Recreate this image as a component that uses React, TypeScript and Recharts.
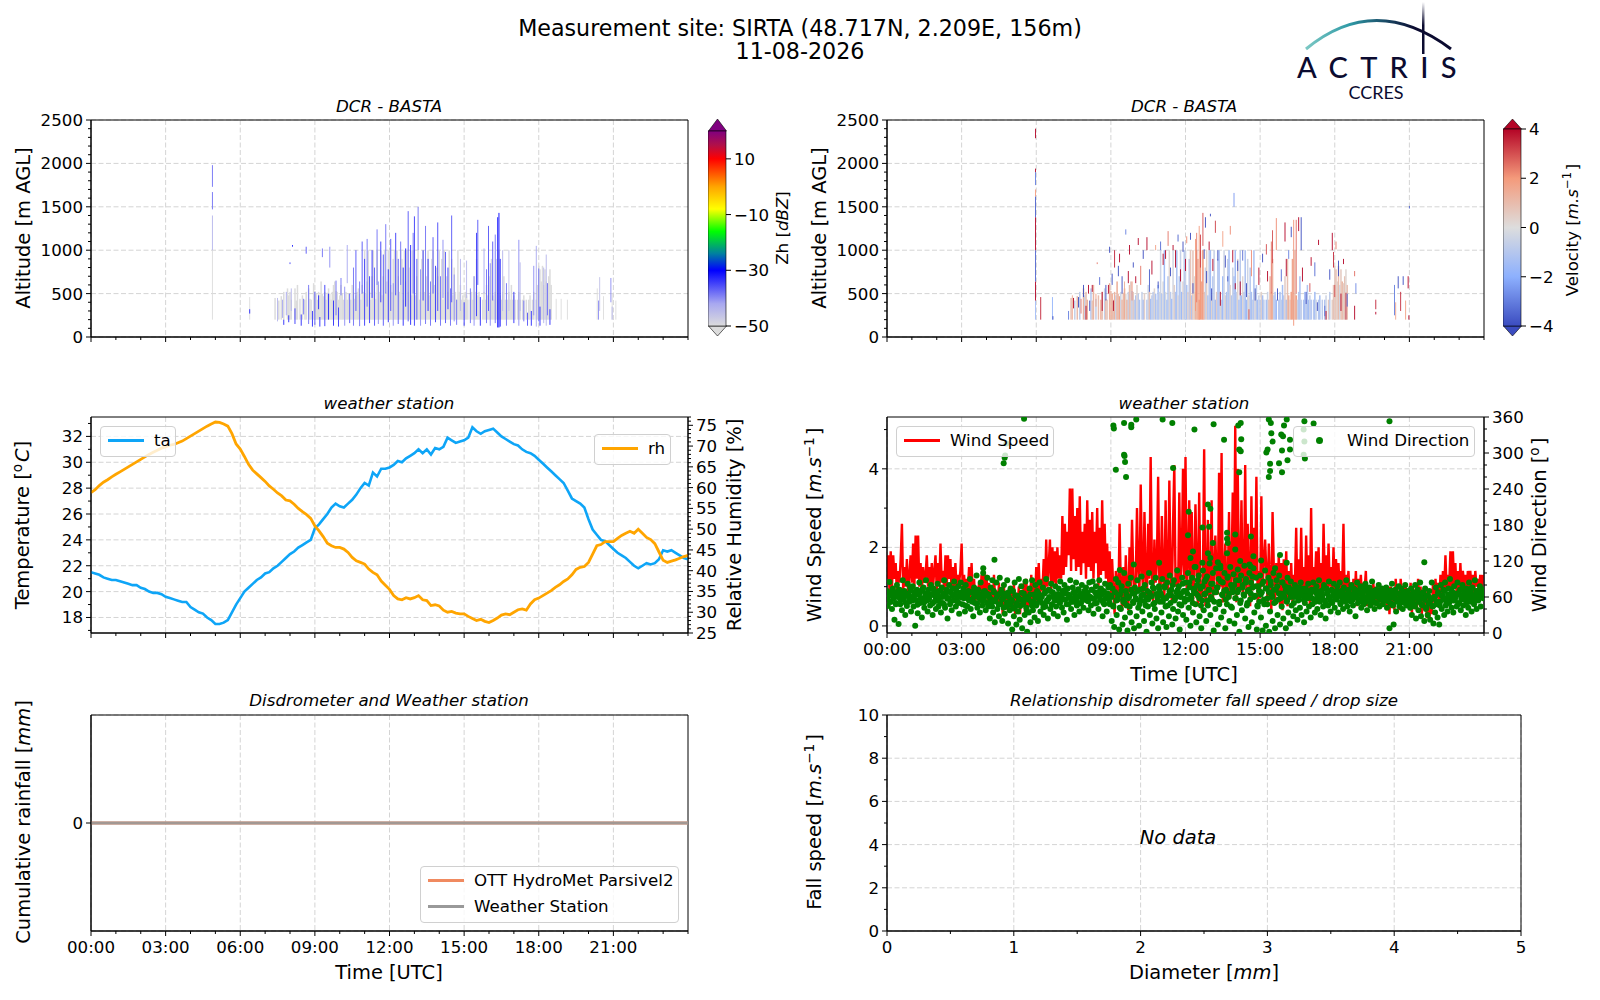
import { ComposedChart, Bar, Line, Scatter, XAxis, YAxis, CartesianGrid, ReferenceArea } from 'recharts';

const FONT = '"DejaVu Sans", sans-serif';

const hourTicks = [0, 1, 2, 3, 4, 5, 6, 7, 8, 9, 10, 11, 12, 13, 14, 15, 16, 17, 18, 19, 20, 21, 22, 23, 24];
const hourMajors = [0, 3, 6, 9, 12, 15, 18, 21];
const altTicks = [0, 100, 200, 300, 400, 500, 600, 700, 800, 900, 1000, 1100, 1200, 1300, 1400, 1500, 1600, 1700, 1800, 1900, 2000, 2100, 2200, 2300, 2400, 2500];
const altMajors = [0, 500, 1000, 1500, 2000, 2500];
const tempTicks = [17, 18, 19, 20, 21, 22, 23, 24, 25, 26, 27, 28, 29, 30, 31, 32, 33];
const tempMajors = [18, 20, 22, 24, 26, 28, 30, 32];
const rhTicks = [25, 26, 27, 28, 29, 30, 31, 32, 33, 34, 35, 36, 37, 38, 39, 40, 41, 42, 43, 44, 45, 46, 47, 48, 49, 50, 51, 52, 53, 54, 55, 56, 57, 58, 59, 60, 61, 62, 63, 64, 65, 66, 67, 68, 69, 70, 71, 72, 73, 74, 75, 76, 77];
const rhMajors = [25, 30, 35, 40, 45, 50, 55, 60, 65, 70, 75];
const wsTicks = [0, 1, 2, 3, 4, 5];
const wsMajors = [0, 2, 4];
const wdTicks = [0, 20, 40, 60, 80, 100, 120, 140, 160, 180, 200, 220, 240, 260, 280, 300, 320, 340, 360];
const wdMajors = [0, 60, 120, 180, 240, 300, 360];
const diamTicks = [0, 0.5, 1, 1.5, 2, 2.5, 3, 3.5, 4, 4.5, 5];
const diamMajors = [0, 1, 2, 3, 4, 5];
const fallTicks = [0, 1, 2, 3, 4, 5, 6, 7, 8, 9, 10];
const fallMajors = [0, 2, 4, 6, 8, 10];

// temperature and humidity, one value every 10 minutes
const temperature = [
  21.5, 21.4, 21.3, 21.1, 21.0, 20.9, 20.9, 20.8, 20.7, 20.6, 20.5, 20.5,
  20.3, 20.2, 20.0, 19.9, 19.9, 19.8, 19.6, 19.5, 19.4, 19.3, 19.2, 19.2,
  18.8, 18.6, 18.4, 18.3, 18.0, 17.8, 17.5, 17.5, 17.6, 17.8, 18.4, 19.0,
  19.5, 20.0, 20.3, 20.6, 20.9, 21.1, 21.4, 21.5, 21.8, 22.0, 22.3, 22.6,
  22.9, 23.1, 23.4, 23.6, 23.8, 24.0, 24.9, 25.2, 25.6, 26.0, 26.5, 26.8,
  26.6, 26.5, 26.8, 27.1, 27.5, 28.0, 28.4, 28.2, 29.2, 28.9, 29.5, 29.5,
  29.6, 29.8, 30.1, 30.0, 30.3, 30.5, 30.7, 31.0, 30.7, 31.0, 30.6, 31.1,
  31.0, 31.2, 31.9, 31.7, 31.5, 31.6, 31.7, 31.9, 32.7, 32.4, 32.2, 32.4,
  32.5, 32.6, 32.3, 32.0, 31.8, 31.6, 31.4, 31.3, 31.0, 30.8, 30.7, 30.5,
  30.2, 29.9, 29.6, 29.3, 29.0, 28.7, 28.4, 27.8, 27.2, 27.0, 26.8, 26.5,
  25.6, 24.8, 24.4, 24.0, 23.9, 23.6, 23.3, 23.0, 22.8, 22.6, 22.3, 22.0,
  21.8, 22.0, 22.2, 22.1, 22.2, 22.5, 23.2, 23.1, 23.2, 23.0, 22.8, 22.6, 22.5,
];
const humidity = [
  58.8, 59.5, 60.5, 61.3, 61.9, 62.6, 63.2, 63.8, 64.4, 65, 65.6, 66.2,
  66.8, 67.4, 68, 68.5, 69, 69.5, 69.8, 70.2, 70.4, 70.8, 71.2, 71.8,
  72.4, 73, 73.6, 74.2, 74.8, 75.3, 75.8, 75.7, 75.3, 74.8, 73, 70.5,
  69.3, 67.5, 65.6, 64.2, 63.3, 62.4, 61.5, 60.4, 59.6, 58.7, 58, 57,
  56.8, 56, 55, 54.2, 53.5, 52.6, 50.8, 49.6, 48.2, 46.6, 46, 45.6,
  45.6, 45.2, 44.4, 43.2, 42.4, 42, 41.6, 40.4, 39.6, 39, 37.5, 36.5,
  35.5, 34, 33.2, 33, 33.5, 33.2, 33.5, 34, 33, 32.8, 31.6, 31.8,
  31.5, 30.5, 30, 30.2, 29.8, 29.6, 29.6, 29, 28.5, 28, 28.3, 27.8,
  27.5, 28, 28.6, 29.3, 29.6, 29.4, 30, 30.6, 30.8, 30.5, 32, 33,
  33.4, 34, 34.6, 35.2, 36, 36.6, 37.4, 38, 39, 40.3, 40.8, 41,
  42, 44, 46, 46.3, 47, 47, 47, 47.8, 48.5, 49, 49.5, 49,
  50, 49, 48, 47.5, 46.5, 44.5, 42.5, 42, 42.3, 42.6, 43, 43.4, 43.7,
];

// wind speed, one value every 3 minutes, a row per hour
const windSpeed = [
  1.2, 1.8, 0.9, 1.9, 1.0, 1.8, 1.2, 1.6, 0.8, 1.4, 1.1, 1.7, 2.6, 0.9, 1.5, 1.0, 1.7, 0.8, 1.3, 1.8,
  1.1, 2.1, 1.0, 2.3, 1.2, 2.3, 1.0, 1.6, 0.9, 1.5, 1.1, 1.3, 1.8, 1.0, 1.5, 0.9, 1.6, 1.0, 1.4, 1.8,
  0.9, 1.6, 1.0, 2.1, 1.1, 1.4, 0.9, 1.8, 1.0, 1.8, 1.2, 1.7, 0.8, 1.5, 1.0, 1.6, 0.9, 1.3, 1.1, 1.4,
  2.1, 0.8, 1.3, 0.7, 1.2, 0.9, 1.5, 0.7, 1.6, 0.8, 1.2, 0.6, 1.0, 0.7, 1.1, 0.6, 1.3, 0.7, 1.4, 0.8,
  1.3, 0.6, 1.1, 0.7, 1.0, 0.5, 1.3, 0.6, 0.9, 0.4, 1.1, 0.5, 0.9, 0.3, 1.0, 0.5, 0.8, 0.4, 0.9, 0.4,
  0.9, 0.4, 1.1, 0.3, 0.8, 0.5, 1.0, 0.3, 0.9, 0.5, 1.1, 0.3, 1.2, 0.4, 0.9, 0.6, 1.3, 0.4, 1.1, 0.6,
  1.5, 0.6, 1.6, 0.7, 1.2, 0.9, 1.7, 0.8, 2.2, 1.0, 1.5, 2.2, 0.9, 2.0, 1.1, 1.9, 1.0, 2.0, 1.2, 1.8,
  1.2, 2.8, 1.3, 2.6, 1.5, 2.4, 1.8, 3.5, 1.4, 3.5, 1.7, 2.8, 1.4, 3.0, 1.5, 3.3, 1.3, 2.4, 1.6, 2.6,
  1.2, 3.2, 1.5, 2.7, 1.4, 2.9, 1.2, 2.4, 1.6, 3.0, 1.0, 2.5, 1.3, 3.2, 1.4, 2.6, 1.2, 2.1, 1.0, 1.9,
  0.8, 1.7, 0.9, 0.3, 1.4, 1.1, 0.6, 2.6, 1.0, 0.4, 1.5, 0.5, 1.8, 0.9, 0.4, 2.0, 1.0, 2.7, 1.3, 0.6,
  1.2, 3.0, 1.4, 0.9, 3.6, 1.5, 0.8, 2.9, 1.3, 0.7, 2.6, 1.2, 4.3, 1.4, 0.6, 2.2, 1.1, 1.6, 3.8, 1.0,
  0.9, 2.8, 1.3, 0.7, 3.2, 1.2, 0.9, 3.7, 1.4, 0.6, 2.6, 4.1, 1.0, 1.5, 0.7, 3.4, 1.1, 1.6, 4.0, 1.2,
  4.3, 0.9, 1.6, 3.2, 1.0, 2.9, 0.6, 1.3, 3.1, 1.5, 0.5, 3.4, 0.8, 0.4, 1.2, 4.5, 0.5, 1.0, 2.7, 0.6,
  0.9, 3.2, 0.6, 1.4, 2.3, 1.2, 0.8, 3.9, 1.0, 4.4, 0.6, 1.2, 2.1, 0.5, 1.1, 2.9, 0.7, 1.3, 3.4, 0.9,
  5.1, 0.6, 4.0, 0.9, 1.2, 3.2, 0.8, 1.1, 4.1, 0.8, 2.6, 1.3, 0.5, 3.3, 0.9, 2.5, 1.2, 3.8, 0.6, 1.4,
  0.7, 3.3, 1.0, 1.6, 2.2, 1.4, 0.6, 2.1, 1.1, 0.4, 2.9, 1.5, 0.6, 1.6, 0.8, 1.8, 0.5, 1.6, 0.4, 1.7,
  1.0, 1.9, 0.5, 1.4, 0.8, 1.6, 0.6, 1.3, 1.1, 2.5, 0.6, 1.7, 0.8, 2.5, 0.9, 1.5, 0.6, 2.3, 0.8, 1.8,
  0.5, 3.0, 0.8, 1.5, 1.0, 1.9, 0.6, 2.0, 0.9, 1.6, 0.7, 2.6, 1.1, 1.8, 0.8, 2.1, 1.0, 1.5, 0.8, 2.0,
  0.9, 1.7, 1.1, 1.6, 0.8, 1.4, 1.0, 2.6, 0.7, 1.3, 0.9, 1.4, 0.8, 1.1, 0.6, 1.2, 0.7, 1.4, 0.5, 1.2,
  0.8, 1.3, 0.6, 1.1, 0.9, 1.4, 0.5, 1.0, 0.7, 0.9, 0.5, 1.1, 0.6, 1.0, 0.5, 0.9, 0.6, 1.0, 0.5, 0.9,
  0.7, 0.9, 0.4, 1.0, 0.3, 1.0, 0.5, 0.8, 0.4, 1.2, 0.7, 0.9, 0.4, 1.2, 0.8, 1.0, 0.6, 1.0, 0.5, 0.9,
  0.4, 1.1, 0.3, 1.0, 0.5, 0.9, 0.4, 1.2, 0.6, 1.0, 0.3, 0.8, 0.5, 0.9, 0.2, 0.8, 0.1, 0.7, 0.3, 1.1,
  0.6, 1.2, 0.7, 1.1, 0.5, 1.3, 0.7, 1.4, 0.9, 1.8, 0.9, 1.3, 1.0, 1.9, 0.8, 1.9, 1.0, 1.6, 0.8, 1.4,
  0.8, 1.6, 0.9, 1.4, 1.1, 1.3, 0.8, 1.4, 1.0, 1.4, 0.9, 1.3, 0.8, 1.4, 1.0, 1.2, 0.9, 1.3, 0.8, 1.3,
];

// wind direction, one value every 2 minutes, a row per hour
const windDir = [
  70, 45, 62, 85, 52, 66, 40, 74, 58, 22, 68, 50, 80, 60, 15, 72, 48, 64, 38, 88, 56, 70, 30, 62, 45, 82, 66, 52, 76, 36,
  60, 78, 44, 68, 12, 55, 72, 33, 64, 84, 50, 70, 26, 58, 76, 42, 66, 88, 54, 36, 72, 60, 46, 80, 64, 30, 74, 52, 68, 40,
  56, 82, 44, 70, 60, 34, 76, 50, 66, 88, 42, 62, 72, 24, 58, 80, 48, 68, 38, 74, 54, 86, 64, 44, 70, 52, 78, 32, 60, 84,
  66, 48, 74, 58, 36, 80, 62, 44, 70, 54, 90, 40, 68, 56, 28, 76, 50, 64, 96, 42, 72, 58, 34, 84, 62, 46, 100, 54, 70, 38,
  66, 92, 44, 60, 24, 76, 50, 88, 34, 68, 18, 56, 84, 40, 64, 28, 92, 48, 72, 20, 58, 80, 32, 66, 44, 88, 16, 60, 38, 74,
  52, 6, 70, 28, 84, 44, 14, 62, 36, 90, 22, 56, 78, 8, 48, 66, 30, 86, 42, 2, 60, 34, 74, 18, 52, 88, 38, 64, 26, 80,
  46, 70, 20, 58, 84, 36, 62, 50, 76, 30, 66, 44, 90, 54, 24, 72, 60, 40, 82, 48, 68, 32, 56, 78, 44, 64, 28, 74, 52, 86,
  60, 42, 70, 34, 80, 56, 66, 22, 74, 48, 62, 88, 40, 58, 76, 52, 30, 68, 84, 46, 60, 72, 36, 64, 50, 80, 56, 42, 70, 62,
  76, 54, 66, 38, 84, 60, 46, 72, 86, 32, 58, 68, 78, 50, 62, 40, 88, 56, 74, 64, 28, 70, 48, 82, 58, 36, 66, 76, 52, 80,
  62, 20, 74, 44, 10, 68, 90, 30, 56, 84, 6, 64, 40, 78, 14, 52, 100, 26, 70, 46, 4, 82, 60, 34, 92, 18, 66, 50, 8, 76,
  58, 28, 88, 42, 12, 72, 54, 94, 36, 64, 20, 80, 46, 2, 70, 56, 100, 30, 62, 84, 16, 48, 74, 40, 92, 24, 60, 8, 78, 52,
  66, 34, 90, 18, 58, 76, 44, 10, 84, 62, 28, 96, 50, 72, 14, 40, 88, 56, 24, 68, 104, 36, 78, 6, 60, 46, 92, 30, 70, 52,
  84, 22, 66, 100, 42, 76, 12, 58, 92, 34, 70, 110, 48, 18, 80, 62, 96, 28, 74, 8, 54, 104, 38, 86, 66, 20, 94, 46, 72, 116,
  30, 82, 56, 100, 4, 68, 40, 108, 76, 14, 90, 52, 112, 26, 64, 84, 36, 100, 8, 72, 48, 94, 60, 20, 110, 80, 42, 68, 98, 16,
  58, 88, 30, 106, 72, 2, 50, 96, 38, 80, 64, 112, 24, 90, 46, 70, 10, 100, 56, 84, 18, 76, 108, 34, 62, 92, 6, 44, 78, 52,
  96, 26, 68, 4, 86, 48, 104, 12, 74, 58, 92, 2, 36, 80, 64, 20, 100, 50, 8, 72, 88, 30, 56, 96, 14, 66, 44, 84, 24, 60,
  78, 8, 52, 92, 34, 68, 16, 86, 46, 72, 28, 60, 80, 38, 66, 22, 54, 76, 42, 84, 30, 62, 70, 18, 50, 74, 36, 58, 82, 44,
  64, 26, 72, 48, 84, 56, 34, 68, 78, 40, 60, 88, 52, 30, 70, 62, 44, 80, 54, 24, 74, 66, 46, 86, 58, 36, 72, 50, 64, 82,
  42, 68, 56, 78, 34, 62, 84, 48, 70, 58, 40, 76, 64, 52, 88, 44, 66, 72, 36, 60, 80, 54, 46, 74, 68, 28, 62, 84, 50, 70,
  56, 78, 42, 66, 60, 48, 74, 82, 52, 38, 68, 62, 76, 46, 58, 86, 54, 70, 40, 64, 72, 50, 60, 80, 44, 66, 56, 74, 48, 62,
  68, 54, 76, 42, 60, 70, 8, 50, 64, 82, 46, 14, 58, 72, 36, 66, 52, 78, 44, 62, 74, 56, 40, 68, 50, 80, 60, 46, 70, 54,
  64, 42, 74, 30, 56, 68, 48, 80, 24, 60, 72, 38, 52, 84, 28, 66, 46, 58, 20, 74, 40, 62, 30, 50, 70, 22, 56, 84, 44, 16,
  60, 34, 76, 48, 26, 66, 14, 52, 80, 40, 62, 72, 30, 84, 46, 58, 36, 74, 50, 90, 64, 42, 68, 34, 78, 54, 60, 44, 84, 66,
  50, 72, 38, 60, 80, 46, 66, 56, 30, 74, 62, 42, 84, 52, 68, 36, 76, 58, 48, 88, 64, 40, 70, 54, 60, 78, 44, 66, 72, 58,
];

// more direction samples in the dense core of the band, every 4 minutes, a row per hour
const windDirCore = [
  58, 66, 52, 70, 61, 48, 64, 72, 55, 60, 68, 50, 63, 57, 71,
  54, 62, 69, 47, 65, 58, 73, 51, 60, 67, 56, 63, 49, 70, 59,
  64, 53, 71, 60, 48, 66, 57, 69, 52, 62, 74, 55, 61, 50, 67,
  59, 70, 46, 63, 56, 68, 52, 60, 72, 49, 65, 58, 54, 69, 62,
  50, 64, 57, 44, 70, 53, 61, 48, 66, 56, 42, 62, 51, 68, 47,
  55, 41, 63, 50, 58, 45, 67, 52, 60, 38, 56, 64, 46, 53, 61,
  49, 66, 55, 60, 43, 68, 52, 57, 70, 47, 63, 54, 59, 65, 50,
  62, 56, 71, 48, 64, 58, 52, 67, 60, 54, 73, 49, 61, 66, 56,
  68, 53, 60, 72, 57, 49, 65, 62, 70, 55, 51, 67, 59, 63, 48,
  60, 46, 68, 54, 62, 42, 70, 56, 50, 64, 58, 44, 72, 52, 66,
  56, 70, 48, 62, 74, 53, 59, 44, 67, 61, 76, 50, 65, 55, 71,
  62, 52, 78, 58, 46, 69, 63, 80, 54, 60, 72, 48, 66, 82, 57,
  70, 56, 84, 62, 50, 74, 66, 88, 58, 46, 78, 64, 90, 54, 72,
  60, 82, 52, 68, 76, 48, 86, 63, 70, 56, 92, 66, 44, 74, 80,
  58, 68, 88, 54, 76, 62, 84, 50, 72, 66, 94, 60, 78, 46, 70,
  64, 82, 56, 74, 48, 68, 86, 60, 72, 52, 78, 66, 58, 84, 62,
  70, 54, 76, 60, 66, 50, 72, 63, 57, 68, 74, 55, 62, 70, 59,
  66, 58, 72, 52, 64, 69, 56, 61, 74, 50, 67, 60, 54, 71, 63,
  57, 70, 62, 51, 66, 73, 55, 60, 68, 53, 64, 58, 72, 61, 56,
  65, 52, 69, 60, 57, 72, 54, 63, 67, 50, 61, 70, 58, 64, 55,
  62, 68, 53, 59, 71, 48, 64, 56, 66, 51, 60, 69, 54, 62, 57,
  50, 63, 57, 44, 66, 52, 60, 47, 68, 55, 42, 62, 49, 58, 45,
  60, 52, 68, 46, 63, 56, 70, 50, 64, 58, 72, 54, 61, 66, 48,
  64, 56, 72, 60, 50, 68, 58, 74, 62, 54, 70, 57, 66, 60, 72,
];

// direction values outside the main band [hour, degrees]
const windDirHigh = [
  [5.51, 357], [4.8, 316], [4.73, 292], [4.69, 283], [4.75, 296], [9.1, 346], [9.12, 341], [9.53, 350], [9.82, 347], [9.82, 343],
  [10.02, 356], [11.08, 356], [11.47, 350], [13.13, 348], [12.36, 339], [14.22, 350], [14.12, 346], [14.24, 323], [13.55, 322],
  [14.16, 306], [14.22, 303], [9.53, 297], [9.55, 295], [9.57, 285], [9.2, 272], [9.61, 260], [11.5, 275], [14.16, 268],
  [15.35, 356], [15.43, 350], [15.96, 346], [16.07, 356], [16.78, 353], [17.15, 349], [20.2, 353], [15.45, 333], [15.85, 331],
  [15.92, 328], [15.5, 319], [16.2, 322], [15.3, 306], [15.25, 301], [15.88, 304], [16.2, 306], [16.1, 288], [15.76, 283],
  [15.4, 282], [15.88, 268], [15.4, 270], [15.35, 260], [16.75, 339], [16.78, 319], [16.75, 297], [16.8, 291],
  [12.9, 214], [13.0, 207], [12.13, 202], [12.68, 176], [12.95, 177], [12.1, 163], [13.67, 167], [14.0, 164], [13.67, 157],
  [13.1, 150], [14.63, 161], [12.3, 136], [12.9, 133], [13.67, 133], [14.0, 139], [13.7, 150], [14.73, 128], [15.8, 130],
  [16.07, 117], [15.04, 121], [14.57, 114], [14.62, 111], [21.6, 118], [4.32, 122], [10.94, 117], [9.92, 114], [9.36, 105],
  [3.87, 108], [12.2, 125], [12.68, 117], [13.3, 118], [12.4, 110], [13.0, 125], [13.4, 108], [14.2, 120], [15.6, 108],
];

const rainParsivel = [0, 0, 0, 0, 0, 0, 0, 0, 0];
const rainStation = [0, 0, 0, 0, 0, 0, 0, 0, 0];
const rainHours = [0, 3, 6, 9, 12, 15, 18, 21, 24];

// radar echo columns from 07:24, one every 3 minutes: top of the echo (0 = no echo)
const echoTop = [
  450, 0, 0, 420, 0, 470, 0, 520, 0, 0, 560, 480,
  520, 430, 0, 0, 560, 420, 600, 0, 440, 0, 480, 0, 430, 520, 0, 560, 440, 430, 0, 620,
  530, 500, 430, 520, 480, 640, 500, 470, 520, 430, 510, 560, 500, 430, 520, 600, 640, 530, 520, 430,
  480, 600, 500, 430, 0, 520, 430, 500, 0, 430, 600, 520, 440, 480, 520, 560, 500, 430, 600, 520,
  1000, 500, 640, 1000, 520, 430, 700, 1000, 520, 440, 1000, 600, 520, 1000, 480, 700, 1000, 520, 640, 1000,
  1000, 600, 520, 900, 1000, 480, 1000, 700, 520, 1000, 900, 430, 1000, 640, 1000, 520, 800, 1000, 480, 1000,
  1000, 480, 700, 1000, 430, 520, 900, 1000, 520, 430, 700, 1000, 480, 520, 900, 1000, 600, 480, 800, 700,
  1000, 520, 900, 430, 1000, 480, 700, 520, 1000, 430, 900, 480, 800, 520, 430, 1000, 520, 600, 430, 480,
  430, 520, 480, 430, 0, 430, 520, 430, 700, 520, 900, 480, 520, 430, 0, 430, 520, 430, 600, 480,
  700, 430, 900, 480, 430, 520, 900, 430, 1000, 480, 430, 520, 700, 430, 0, 430, 520, 430, 600, 430,
  480, 430, 0, 430, 520, 430, 0, 430, 480, 0, 430, 0, 430, 480, 0, 430, 520, 0, 430, 600,
  820, 780, 640, 820, 600, 780, 640, 620, 700, 780, 600,
];

// mean velocity of the same columns
const echoVel = [
  0.8, 0, 0, -0.6, 0, 1.0, 0, -0.8, 0, 0, 1.2, -0.5,
  0.9, 1.3, 0, 0, -1.0, 0.7, 1.2, 0, -0.7, 0, 1.0, 0, 1.4, 0.8, 0, -0.6, 1.1, 0.6, 0, 1.3,
  1.0, 1.5, 0.7, 1.2, -0.5, 1.4, 0.8, 1.6, -0.4, 1.1, 0.9, 1.3, 0.3, 1.4, -0.6, 1.0, 0.5, -0.9, 0.6, -0.7,
  -1.1, 0.3, -0.8, -1.2, 0, -0.6, -1.4, 0.4, 0, -1.0, -0.4, 0.9, -1.3, -0.7, -1.0, 0.2, -1.2, -0.5, -1.5, -0.3,
  -0.4, -1.2, 0.1, -1.4, -0.2, -1.0, -1.3, 0.2, -0.8, -1.5, -0.3, 0.4, -1.1, -1.3, 0.2, -1.0, -0.6, -1.6, 0.3, -0.9,
  -0.5, -1.2, 0.5, -0.8, 0.7, -1.1, 0.8, 0.2, 1.2, 1.0, 1.5, 1.9, 2.0, 1.6, 2.1, 1.2, -0.6, 0.4, -1.2, -0.8,
  -1.4, 0.3, -1.1, -0.6, -1.5, 0.5, -1.0, -1.3, 0.2, -0.8, -1.6, -0.4, 0.3, -1.2, -0.7, -1.4, 0.2, -1.0, -0.5, -1.2,
  -1.4, -0.6, 0.3, -1.3, -0.9, -1.5, 0.2, -0.7, -1.2, -1.6, -0.4, 0.3, -1.0, -1.3, -0.6, -1.2, 0.2, -0.9, -1.4, -0.5,
  -1.1, 0.4, -1.3, -0.8, 0, -1.4, -0.5, 0.8, 1.2, 1.5, 1.3, -0.7, -1.2, -1.5, 0, -1.0, -1.3, -0.6, -1.4, -0.9,
  0.5, -1.2, 0.9, 1.3, 0.6, 1.8, 1.6, 0.2, 1.0, 2.0, -0.4, -1.0, -1.3, -0.7, 0, -1.2, -1.5, -0.8, -1.1, -1.4,
  -0.6, -1.2, 0, -0.9, -1.4, -0.5, 0, -1.1, -1.3, 0, -0.8, 0, -1.2, -0.4, 0, 0.6, -0.8, 0, 0.4, 0.8,
  0.5, 0.9, 0.3, 1.0, -0.3, 0.6, 1.2, 0.4, 0.8, 0.2, 0.9,
];

// reflectivity streaks [hour, from m, to m, dBZ]
const zhStreaks = [
  [4.88, 200, 1000, -50], [6.38, 200, 460, -50], [18.7, 200, 440, -50], [18.9, 200, 440, -50], [19.15, 200, 430, -50], [20.35, 200, 560, -50], [20.6, 200, 470, -50], [20.95, 200, 500, -50], [21.1, 200, 420, -50],
  [4.88, 1730, 1980, -38], [4.88, 1470, 1670, -38], [4.88, 1000, 1400, -44], [6.38, 270, 320, -33], [20.4, 200, 420, -40], [20.45, 300, 690, -46], [20.9, 400, 680, -40], [20.95, 200, 350, -44],
  [7.5, 180, 450, -44], [7.7, 220, 430, -42], [7.75, 140, 200, -33], [7.85, 250, 520, -42], [7.95, 170, 250, -33], [8.0, 840, 860, -35], [8.05, 300, 560, -44], [8.1, 1040, 1060, -32], [8.2, 150, 330, -34],
  [8.45, 130, 260, -33], [8.55, 260, 440, -38], [8.65, 960, 1040, -36], [8.75, 150, 600, -38], [8.9, 120, 300, -33], [9.0, 140, 520, -36], [9.15, 320, 480, -33], [9.2, 120, 230, -33], [9.3, 920, 1020, -38],
  [9.4, 125, 600, -34], [9.55, 200, 500, -33], [9.6, 800, 1040, -40], [9.75, 130, 420, -33], [9.85, 250, 650, -38], [9.95, 120, 340, -34], [10.05, 480, 680, -38], [10.2, 130, 580, -40], [10.3, 620, 1060, -42],
  [10.4, 160, 500, -36], [10.55, 130, 800, -38], [10.65, 300, 1000, -36], [10.8, 125, 640, -38], [10.9, 500, 1100, -36], [11.0, 130, 900, -34], [11.1, 350, 1130, -38], [11.2, 160, 700, -34], [11.3, 450, 1000, -33],
  [11.4, 130, 800, -36], [11.5, 600, 1240, -38], [11.55, 150, 640, -40], [11.65, 400, 1100, -34], [11.75, 130, 950, -36], [11.85, 500, 1300, -38], [11.95, 170, 780, -33], [12.05, 300, 1130, -36], [12.15, 130, 620, -40],
  [12.25, 480, 1200, -34], [12.35, 150, 900, -36], [12.45, 600, 1100, -38], [12.55, 130, 800, -33], [12.65, 350, 1020, -32], [12.75, 180, 1450, -36], [12.85, 140, 1060, -33], [12.95, 500, 1200, -38], [13.0, 130, 1390, -34],
  [13.1, 200, 900, -36], [13.15, 1000, 1500, -38], [13.25, 130, 780, -40], [13.35, 420, 1000, -34], [13.45, 150, 1280, -38], [13.55, 300, 900, -33], [13.65, 130, 640, -38], [13.75, 500, 1150, -36], [13.85, 170, 820, -34],
  [13.94, 300, 1320, -35], [14.05, 130, 700, -38], [14.15, 450, 1120, -40], [14.25, 160, 980, -36], [14.35, 320, 800, -34], [14.45, 130, 560, -38], [14.5, 400, 1400, -36], [14.6, 180, 720, -40], [14.7, 140, 430, -38],
  [14.85, 300, 900, -44], [15.0, 130, 400, -33], [15.1, 450, 880, -44], [15.25, 160, 560, -38], [15.4, 130, 700, -40], [15.5, 240, 1200, -34], [15.55, 600, 1350, -36], [15.65, 130, 460, -33], [15.8, 500, 1020, -42],
  [15.9, 160, 780, -38], [15.98, 300, 1280, -36], [16.05, 130, 850, -40], [16.15, 420, 1100, -36], [16.25, 160, 1180, -38], [16.35, 110, 1380, -31], [16.4, 110, 1430, -30], [16.45, 120, 900, -32], [16.55, 300, 1000, -44],
  [16.7, 130, 620, -38], [16.8, 300, 1000, -46], [17.0, 160, 520, -33], [17.2, 130, 1120, -40], [17.25, 300, 860, -44], [17.4, 180, 420, -38], [17.55, 130, 280, -36], [17.7, 130, 300, -33], [17.8, 250, 820, -40],
  [17.9, 120, 1050, -42], [18.0, 180, 790, -38], [18.05, 130, 350, -33], [18.2, 160, 800, -44], [18.3, 130, 950, -44], [18.35, 250, 620, -38], [18.45, 140, 320, -33],
];

// velocity speckles [hour, from m, to m, m/s]
const velSpeckles = [
  [5.97, 200, 420, -1.5], [5.97, 420, 640, 4], [5.97, 640, 1000, -3.5], [5.97, 1000, 1380, 4], [5.97, 1380, 1620, -3.6], [5.97, 1620, 1700, 2], [5.97, 1750, 1900, -3], [5.97, 1900, 1940, 4], [5.97, 2290, 2400, 4],
  [6.18, 200, 460, 3.6], [6.65, 200, 460, -1.8], [6.67, 200, 240, -4], [7.3, 200, 300, -3], [7.45, 200, 480, 1.5], [7.5, 330, 450, 4], [7.7, 340, 460, -4], [7.8, 270, 440, 2.5], [7.9, 460, 600, -4], [8.0, 200, 360, 4], [8.1, 500, 600, 4],
  [8.15, 300, 420, -4], [8.25, 520, 600, 4], [8.4, 350, 500, 1.8], [8.45, 840, 860, 2.5], [8.55, 600, 690, -3.4], [8.65, 300, 520, 4], [8.8, 420, 600, -4], [8.9, 500, 600, 4], [8.95, 970, 1040, -4], [9.05, 600, 730, -4], [9.1, 300, 420, 4],
  [9.15, 800, 1000, 3.6], [9.3, 700, 820, -4], [9.35, 860, 960, 4], [9.45, 500, 700, -4], [9.55, 220, 640, 1.4], [9.6, 1180, 1240, -3], [9.7, 620, 760, 4], [9.75, 950, 1060, 4], [9.85, 420, 640, 2.2], [9.9, 800, 860, -4], [10.0, 620, 700, 4],
  [10.1, 1060, 1140, 4], [10.2, 600, 820, 2.5], [10.3, 900, 1000, -4], [10.45, 1000, 1150, 4], [10.55, 520, 780, -3.6], [10.65, 720, 880, 4], [10.8, 1000, 1060, 1.8], [10.9, 560, 640, -4], [11.0, 1000, 1100, -3.4], [11.1, 830, 960, 4], [11.2, 900, 1000, 4],
  [11.3, 1050, 1220, 2.5], [11.4, 700, 800, -4], [11.5, 1000, 1060, 4], [11.6, 800, 1000, 4], [11.7, 1100, 1180, -3.6], [11.8, 640, 780, 4], [11.9, 980, 1100, -4], [12.0, 760, 900, 4], [12.05, 1080, 1160, 2.2], [12.2, 1120, 1200, -4], [12.3, 500, 620, -4],
  [12.4, 300, 1130, 2], [12.45, 400, 1200, 2.4], [12.55, 200, 1280, 1.9], [12.6, 800, 1180, 3.2], [12.7, 1050, 1430, 3], [12.75, 900, 1010, -4], [12.8, 1260, 1380, -4], [12.85, 620, 760, -4], [12.95, 1000, 1100, 4], [13.0, 1390, 1420, -4], [13.05, 420, 560, -4],
  [13.1, 760, 900, 4], [13.2, 1200, 1340, 3.2], [13.3, 880, 1000, -4], [13.4, 360, 520, 4], [13.5, 1040, 1220, 1.8], [13.6, 800, 940, -4], [13.7, 640, 700, -3.6], [13.8, 1180, 1280, 2.2], [13.9, 860, 1000, 4], [13.95, 1500, 1660, -2.5], [14.0, 550, 620, 4],
  [14.1, 760, 880, -4], [14.2, 480, 640, 4], [14.3, 880, 1000, -3.4], [14.45, 460, 620, -4], [14.55, 200, 320, 3], [14.65, 700, 1000, 2.2], [14.8, 420, 560, -4], [14.95, 600, 800, 4], [15.1, 860, 960, -4], [15.25, 950, 1070, 3], [15.3, 640, 760, 4],
  [15.45, 500, 1100, 2.5], [15.5, 850, 1230, 3], [15.65, 1000, 1370, 2.2], [15.7, 420, 560, -4], [15.85, 640, 780, -3.4], [16.0, 1100, 1320, 4], [16.05, 700, 900, 4], [16.15, 900, 1000, -3], [16.25, 1150, 1270, -4], [16.35, 130, 1350, 2.1], [16.45, 500, 1350, 2.6],
  [16.55, 1220, 1380, 4], [16.65, 1000, 1380, -4], [16.7, 640, 800, 4], [16.85, 380, 520, -4], [17.0, 520, 620, 3], [17.05, 820, 920, 4], [17.2, 700, 860, -3.4], [17.3, 300, 400, -4], [17.35, 1060, 1120, 4], [17.6, 240, 360, -3.2], [17.65, 200, 300, 4],
  [17.8, 660, 780, -4], [17.9, 1000, 1200, 4], [17.95, 800, 980, 3.5], [18.0, 460, 600, 3], [18.05, 1010, 1100, 2.4], [18.15, 700, 880, -4], [18.25, 300, 500, 4], [18.35, 840, 900, 4], [18.45, 200, 510, 3.6], [18.5, 350, 500, -3.4], [18.8, 200, 360, 4],
  [18.8, 700, 760, 2.6], [18.85, 500, 620, -2.8], [19.65, 320, 430, 3.6], [19.65, 260, 290, 4], [20.4, 250, 600, -3], [20.45, 200, 400, 1.6], [20.55, 560, 700, -4], [20.65, 300, 520, 3.5], [20.75, 600, 700, -4], [20.85, 200, 420, 1.8], [20.95, 560, 700, 4], [20.98, 200, 250, 4], [21.0, 1480, 1510, -3.6],
];

const zhStops: [number, string][] = [[-50, '#dcdcdc'], [-42, '#a8a8f0'], [-30, '#0000ff'], [-24, '#0080a0'], [-16, '#00ff00'], [-8, '#ffff00'], [0, '#ffa500'], [10, '#ff0000'], [15, '#b0104a'], [20, '#800080']];
const velStops: [number, string][] = [[-4, '#3b4cc0'], [-2, '#8db0fe'], [0, '#dddddd'], [2, '#f49a7b'], [4, '#b40426']];

const hexToRgb = (c: string) => [1, 3, 5].map((i) => parseInt(c.slice(i, i + 2), 16));

function colorAt(stops: [number, string][], v: number) {
  if (v <= stops[0][0]) return stops[0][1];
  for (let i = 1; i < stops.length; i++) {
    if (v <= stops[i][0]) {
      const f = (v - stops[i - 1][0]) / (stops[i][0] - stops[i - 1][0]);
      const a = hexToRgb(stops[i - 1][1]);
      const b = hexToRgb(stops[i][1]);
      return `rgb(${a.map((x, k) => Math.round(x + (b[k] - x) * f)).join(',')})`;
    }
  }
  return stops[stops.length - 1][1];
}

const echoHour = (i: number) => 7.4 + i * 0.05;

const zhRows = [
  ...echoTop.map((top, i) => ({ t: echoHour(i), range: [200, top], fill: colorAt(zhStops, -50), base: true })).filter((r) => r.range[1] > 0),
  ...zhStreaks.map(([t, lo, hi, v]) => ({ t, range: [lo, hi], fill: colorAt(zhStops, v), base: false })),
];
const velRows = [
  ...echoTop.map((top, i) => ({ t: echoHour(i), range: [200, top], fill: colorAt(velStops, echoVel[i]), base: true })).filter((r) => r.range[1] > 0),
  ...velSpeckles.map(([t, lo, hi, v]) => ({ t, range: [lo, hi], fill: colorAt(velStops, v), base: false })),
];
const metRows = temperature.map((ta, i) => ({ t: i / 6, ta, rh: humidity[i] }));
const speedRows = windSpeed.map((ws, i) => ({ t: i * 0.05, ws }));
const dirRows = [
  ...windDir.map((wd, i) => ({ t: i / 30, wd })),
  ...windDirCore.map((wd, i) => ({ t: i / 15 + 0.023, wd })),
  ...windDirHigh.map(([t, wd]) => ({ t, wd })),
];
const rainRows = rainHours.map((t, i) => ({ t, parsivel: rainParsivel[i], station: rainStation[i] }));
const fallRows = [{ d: 0, v: null }, { d: 5, v: null }];

const hhmm = (h: number) => `${String(h).padStart(2, '0')}:00`;
const fontSize = 16.67;
const labelSize = 19.44;

// draws its own tick line so that minor ticks are shorter and carry no label
function makeTick(side: 'left' | 'right' | 'bottom', majors: number[], fmt?: (v: number) => string) {
  return (props: any) => {
    const { x, y, payload } = props;
    const major = majors.includes(payload.value);
    const len = major ? 5 : 3;
    const label = major && fmt ? fmt(payload.value) : null;
    if (side === 'bottom') {
      return (
        <g>
          <line x1={x} x2={x} y1={y} y2={y + len} stroke="#000" />
          {label && <text x={x} y={y + 22} textAnchor="middle" fontSize={fontSize} fontFamily={FONT}>{label}</text>}
        </g>
      );
    }
    const dir = side === 'left' ? -1 : 1;
    return (
      <g>
        <line x1={x} x2={x + dir * len} y1={y} y2={y} stroke="#000" />
        {label && (
          <text x={x + dir * 8} y={y + 6} textAnchor={side === 'left' ? 'end' : 'start'} fontSize={fontSize} fontFamily={FONT}>
            {label}
          </text>
        )}
      </g>
    );
  };
}

// the rows share hours, so the band the library works out is too thin: draw a fixed width column
const RadarColumn = (p: any) => {
  const w = p.payload.base ? 1.5 : 0.9;
  return <rect x={p.x + p.width / 2 - w / 2} y={p.y} width={w} height={p.height} fill={p.payload.fill} />;
};

const gridProps = { stroke: '#d4d4d4', strokeDasharray: '5 2.5', strokeWidth: 1 };
const str = (v: number) => String(v);

function RadarPanel({ left, rows }: { left: number; rows: any[] }) {
  return (
    <div style={{ position: 'absolute', left: left - 80, top: 110 }}>
      <ComposedChart width={757} height={287} data={rows} margin={{ top: 10, right: 80, bottom: 0, left: 0 }}>
        <CartesianGrid {...gridProps} verticalValues={hourMajors} horizontalValues={altMajors} />
        <XAxis type="number" dataKey="t" domain={[0, 24]} ticks={hourTicks} interval={0} height={60} allowDataOverflow tickSize={0} tickMargin={0} tickLine={false} axisLine={{ stroke: '#000' }} tick={makeTick('bottom', hourMajors)} />
        <YAxis type="number" domain={[0, 2500]} ticks={altTicks} interval={0} width={80} allowDataOverflow tickSize={0} tickMargin={0} tickLine={false} axisLine={{ stroke: '#000' }} tick={makeTick('left', altMajors, str)} />
        <Bar dataKey="range" shape={RadarColumn} isAnimationActive={false} />
        <ReferenceArea x1={0} x2={24} y1={0} y2={2500} fill="none" stroke="#000" strokeWidth={1} />
      </ComposedChart>
    </div>
  );
}

function MetPanel() {
  return (
    <div style={{ position: 'absolute', left: 11, top: 407 }}>
      <ComposedChart width={757} height={286} data={metRows} margin={{ top: 10, right: 0, bottom: 0, left: 0 }}>
        <CartesianGrid {...gridProps} yAxisId="temp" verticalValues={hourMajors} horizontalValues={tempMajors} />
        <XAxis type="number" dataKey="t" domain={[0, 24]} ticks={hourTicks} interval={0} height={60} allowDataOverflow tickSize={0} tickMargin={0} tickLine={false} axisLine={{ stroke: '#000' }} tick={makeTick('bottom', hourMajors)} />
        <YAxis yAxisId="temp" type="number" domain={[16.8, 33.5]} ticks={tempTicks} interval={0} width={80} allowDataOverflow tickSize={0} tickMargin={0} tickLine={false} axisLine={{ stroke: '#000' }} tick={makeTick('left', tempMajors, str)} />
        <YAxis yAxisId="rh" orientation="right" type="number" domain={[25, 77]} ticks={rhTicks} interval={0} width={80} allowDataOverflow tickSize={0} tickMargin={0} tickLine={false} axisLine={{ stroke: '#000' }} tick={makeTick('right', rhMajors, str)} />
        <Line yAxisId="temp" dataKey="ta" stroke="#0ea5f7" strokeWidth={2.6} dot={false} isAnimationActive={false} />
        <Line yAxisId="rh" dataKey="rh" stroke="#ffa500" strokeWidth={2.8} dot={false} isAnimationActive={false} />
        <ReferenceArea yAxisId="temp" x1={0} x2={24} y1={16.8} y2={33.5} fill="none" stroke="#000" strokeWidth={1} />
      </ComposedChart>
    </div>
  );
}

function WindPanel() {
  return (
    <div style={{ position: 'absolute', left: 807, top: 407 }}>
      <ComposedChart width={757} height={286} data={speedRows} margin={{ top: 10, right: 0, bottom: 0, left: 0 }}>
        <CartesianGrid {...gridProps} yAxisId="ws" verticalValues={hourMajors} horizontalValues={wsMajors} />
        <XAxis type="number" dataKey="t" domain={[0, 24]} ticks={hourTicks} interval={0} height={60} allowDataOverflow tickSize={0} tickMargin={0} tickLine={false} axisLine={{ stroke: '#000' }} tick={makeTick('bottom', hourMajors, hhmm)} />
        <YAxis yAxisId="ws" type="number" domain={[-0.18, 5.32]} ticks={wsTicks} interval={0} width={80} allowDataOverflow tickSize={0} tickMargin={0} tickLine={false} axisLine={{ stroke: '#000' }} tick={makeTick('left', wsMajors, str)} />
        <YAxis yAxisId="wd" dataKey="wd" orientation="right" type="number" domain={[0, 360]} ticks={wdTicks} interval={0} width={80} allowDataOverflow tickSize={0} tickMargin={0} tickLine={false} axisLine={{ stroke: '#000' }} tick={makeTick('right', wdMajors, str)} />
        <Line yAxisId="ws" dataKey="ws" stroke="#ff0000" strokeWidth={2.4} dot={false} isAnimationActive={false} />
        <Scatter
          yAxisId="wd"
          data={dirRows}
          dataKey="wd"
          isAnimationActive={false}
          shape={(p: any) => <circle cx={p.cx} cy={p.cy} r={3} fill="#008000" />}
        />
        <ReferenceArea yAxisId="ws" x1={0} x2={24} y1={-0.18} y2={5.32} fill="none" stroke="#000" strokeWidth={1} />
      </ComposedChart>
    </div>
  );
}

function RainPanel() {
  return (
    <div style={{ position: 'absolute', left: 11, top: 705 }}>
      <ComposedChart width={757} height={286} data={rainRows} margin={{ top: 10, right: 80, bottom: 0, left: 0 }}>
        <CartesianGrid {...gridProps} verticalValues={hourMajors} horizontalValues={[]} />
        <XAxis type="number" dataKey="t" domain={[0, 24]} ticks={hourTicks} interval={0} height={60} allowDataOverflow tickSize={0} tickMargin={0} tickLine={false} axisLine={{ stroke: '#000' }} tick={makeTick('bottom', hourMajors, hhmm)} />
        <YAxis type="number" domain={[-1, 1]} ticks={[0]} interval={0} width={80} allowDataOverflow tickSize={0} tickMargin={0} tickLine={false} axisLine={{ stroke: '#000' }} tick={makeTick('left', [0], str)} />
        <Line dataKey="parsivel" stroke="#f08a60" strokeWidth={3} dot={false} isAnimationActive={false} />
        <Line dataKey="station" stroke="#999999" strokeOpacity={0.9} strokeWidth={3} dot={false} isAnimationActive={false} />
        <ReferenceArea x1={0} x2={24} y1={-1} y2={1} fill="none" stroke="#000" strokeWidth={1} />
      </ComposedChart>
    </div>
  );
}

function FallPanel() {
  return (
    <div style={{ position: 'absolute', left: 807, top: 705 }}>
      <ComposedChart width={794} height={286} data={fallRows} margin={{ top: 10, right: 80, bottom: 0, left: 0 }}>
        <CartesianGrid {...gridProps} verticalValues={diamMajors} horizontalValues={fallMajors} />
        <XAxis type="number" dataKey="d" domain={[0, 5]} ticks={diamTicks} interval={0} height={60} allowDataOverflow tickSize={0} tickMargin={0} tickLine={false} axisLine={{ stroke: '#000' }} tick={makeTick('bottom', diamMajors, str)} />
        <YAxis type="number" domain={[0, 10]} ticks={fallTicks} interval={0} width={80} allowDataOverflow tickSize={0} tickMargin={0} tickLine={false} axisLine={{ stroke: '#000' }} tick={makeTick('left', fallMajors, str)} />
        <Line dataKey="v" stroke="none" dot={false} isAnimationActive={false} />
        <ReferenceArea x1={0} x2={5} y1={0} y2={10} fill="none" stroke="#000" strokeWidth={1} />
      </ComposedChart>
    </div>
  );
}

const minus = (v: number) => String(v).replace('-', '\u2212');

function ColorBar({ left, id, stops, min, max, ticks, bodyTop }: any) {
  const top = 119;
  const bottom = 336;
  const bodyBottom = 326;
  const w = 18;
  const rows = ticks.map((v: number, i: number) => ({ x: i / (ticks.length - 1), v }));
  return (
    <div style={{ position: 'absolute', left, top: 0 }}>
      <svg width={w + 1} height={400} style={{ position: 'absolute', left: -0.5, top: 0 }}>
        <polygon points={`0.5,${bodyTop} ${w / 2 + 0.5},${top} ${w + 0.5},${bodyTop}`} fill={stops[stops.length - 1][1]} stroke="#000" strokeWidth={0.6} />
        <polygon points={`0.5,${bodyBottom} ${w / 2 + 0.5},${bottom} ${w + 0.5},${bodyBottom}`} fill={stops[0][1]} stroke="#000" strokeWidth={0.6} />
      </svg>
      <div style={{ position: 'absolute', left: 0, top: bodyTop - 10 }}>
        <ComposedChart width={w + 60} height={bodyBottom - bodyTop + 30} data={rows} margin={{ top: 10, right: 0, bottom: 20, left: 0 }}>
          <defs>
            <linearGradient id={id} x1="0" y1="1" x2="0" y2="0">
              {stops.map(([v, c]: [number, string]) => (
                <stop key={v} offset={(v - stops[0][0]) / (stops[stops.length - 1][0] - stops[0][0])} stopColor={c} />
              ))}
            </linearGradient>
          </defs>
          <XAxis type="number" dataKey="x" hide domain={[0, 1]} />
          <YAxis orientation="right" type="number" domain={[min, max]} ticks={ticks} interval={0} width={60} tickSize={0} tickMargin={0} tickLine={false} axisLine={false} tick={makeTick('right', ticks, minus)} />
          <Line dataKey="v" stroke="none" dot={false} isAnimationActive={false} />
          <ReferenceArea x1={0} x2={1} y1={min} y2={max} fill={`url(#${id})`} fillOpacity={1} stroke="#000" strokeWidth={0.6} />
        </ComposedChart>
      </div>
    </div>
  );
}

function LegendBox({ x, y, w, h, items }: any) {
  return (
    <div
      style={{
        position: 'absolute',
        left: x,
        top: y,
        width: w,
        height: h,
        boxSizing: 'border-box',
        background: 'rgba(255,255,255,0.8)',
        border: '1px solid #d0d0d0',
        borderRadius: 4,
        fontFamily: FONT,
        fontSize,
        color: '#000',
      }}
    >
      {items.map((it: any, i: number) => (
        <div key={it.name} style={{ position: 'absolute', left: 7, top: 2 + i * 26, height: 22, display: 'flex', alignItems: 'center', whiteSpace: 'nowrap' }}>
          <span style={{ display: 'inline-block', width: 36, marginRight: 10, height: 3, background: it.dot ? 'transparent' : it.color, position: 'relative' }}>
            {it.dot && <span style={{ position: 'absolute', left: 15, top: -2, width: 7, height: 7, borderRadius: '50%', background: it.color }} />}
          </span>
          {it.name}
        </div>
      ))}
    </div>
  );
}

const Em = ({ children }: any) => <tspan fontStyle="italic">{children}</tspan>;
const Sup = ({ children }: any) => (
  <>
    <tspan dy={-7} fontSize="70%">{children}</tspan>
    <tspan dy={7}>{'\u200a'}</tspan>
  </>
);

function YTitle({ x, y, size = labelSize, children }: any) {
  return (
    <text transform={`translate(${x},${y}) rotate(-90)`} textAnchor="middle" fontSize={size} fontFamily={FONT}>
      {children}
    </text>
  );
}

function Overlay() {
  const title = (x: number, y: number, s: string) => (
    <text x={x} y={y} textAnchor="middle" fontSize={fontSize} fontStyle="italic" fontFamily={FONT}>{s}</text>
  );
  const xTitle = (x: number, y: number, c: any) => (
    <text x={x} y={y} textAnchor="middle" fontSize={labelSize} fontFamily={FONT}>{c}</text>
  );
  return (
    <svg width={1600} height={1000} style={{ position: 'absolute', left: 0, top: 0, pointerEvents: 'none' }}>
      <defs>
        <linearGradient id="arcFade" x1="0" y1="0" x2="1" y2="0">
          <stop offset="0" stopColor="#7cc8c4" />
          <stop offset="0.3" stopColor="#2f9aa6" />
          <stop offset="0.55" stopColor="#1a4a66" />
          <stop offset="0.75" stopColor="#0b0b30" />
          <stop offset="1" stopColor="#0b0b30" />
        </linearGradient>
        <linearGradient id="mastFade" x1="0" y1="0" x2="0" y2="1">
          <stop offset="0" stopColor="#ffffff" />
          <stop offset="0.45" stopColor="#0b0b30" />
        </linearGradient>
      </defs>
      <text x={800} y={36} textAnchor="middle" fontSize={22.2} fontFamily={FONT}>Measurement site: SIRTA (48.717N, 2.209E, 156m)</text>
      <text x={800} y={59} textAnchor="middle" fontSize={22.2} fontFamily={FONT}>11-08-2026</text>

      <path d="M1306 49 Q1375 -8 1451 49" fill="none" stroke="url(#arcFade)" strokeWidth={3} />
      <rect x={1422} y={2} width={2.5} height={52} fill="url(#mastFade)" />
      <text x={1297} y={78} fontSize={29} fontWeight={500} fontFamily="Lato, sans-serif" fill="#0b0b30" letterSpacing={12.3}>ACTRIS</text>
      <text x={1376} y={99} textAnchor="middle" fontSize={18} fontFamily="Lato, sans-serif" fill="#0b0b30">CCRES</text>

      {title(389, 112, 'DCR - BASTA')}
      {title(1184, 112, 'DCR - BASTA')}
      {title(389, 409, 'weather station')}
      {title(1184, 409, 'weather station')}
      {title(389, 706, 'Disdrometer and Weather station')}
      {title(1204, 706, 'Relationship disdrometer fall speed / drop size')}

      <YTitle x={30} y={228}>Altitude [m AGL]</YTitle>
      <YTitle x={826} y={228}>Altitude [m AGL]</YTitle>
      <YTitle x={29} y={525}>Temperature [<Sup>o</Sup><Em>C</Em>]</YTitle>
      <YTitle x={741} y={525}>Relative Humidity [%]</YTitle>
      <YTitle x={821} y={525}>Wind Speed [<Em>m.s</Em><Sup>−1</Sup>]</YTitle>
      <YTitle x={1546} y={525}>Wind Direction [<Sup>o</Sup>]</YTitle>
      <YTitle x={30} y={822}>Cumulative rainfall [<Em>mm</Em>]</YTitle>
      <YTitle x={821} y={822}>Fall speed [<Em>m.s</Em><Sup>−1</Sup>]</YTitle>
      <YTitle x={788} y={228} size={fontSize}>Zh [<Em>dBZ</Em>]</YTitle>
      <YTitle x={1578} y={230} size={fontSize}>Velocity [<Em>m.s</Em><Sup>−1</Sup>]</YTitle>

      {xTitle(389, 979, 'Time [UTC]')}
      {xTitle(1184, 681, 'Time [UTC]')}
      {xTitle(1204, 979, <>Diameter [<Em>mm</Em>]</>)}

      <text x={1178} y={844} textAnchor="middle" fontSize={labelSize} fontStyle="italic" fontFamily={FONT}>No data</text>
    </svg>
  );
}

export default function App() {
  return (
    <div style={{ position: 'absolute', left: 0, top: 0, width: 1600, height: 1000, background: '#fff' }}>
      <RadarPanel left={91} rows={zhRows} />
      <RadarPanel left={887} rows={velRows} />
      <ColorBar left={708} id="zhGrad" stops={zhStops} min={-50} max={20} ticks={[-50, -30, -10, 10]} bodyTop={131} />
      <ColorBar left={1503} id="velGrad" stops={velStops} min={-4} max={4} ticks={[-4, -2, 0, 2, 4]} bodyTop={129} />
      <MetPanel />
      <WindPanel />
      <RainPanel />
      <FallPanel />
      <Overlay />
      <LegendBox x={100} y={426} w={76} h={31} items={[{ name: 'ta', color: '#0ea5f7' }]} />
      <LegendBox x={594} y={434} w={77} h={31} items={[{ name: 'rh', color: '#ffa500' }]} />
      <LegendBox x={896} y={426} w={158} h={31} items={[{ name: 'Wind Speed', color: '#ff0000' }]} />
      <LegendBox x={1293} y={426} w={182} h={31} items={[{ name: 'Wind Direction', color: '#008000', dot: true }]} />
      <LegendBox x={420} y={866} w={259} h={57} items={[{ name: 'OTT HydroMet Parsivel2', color: '#f08a60' }, { name: 'Weather Station', color: '#999999' }]} />
    </div>
  );
}
